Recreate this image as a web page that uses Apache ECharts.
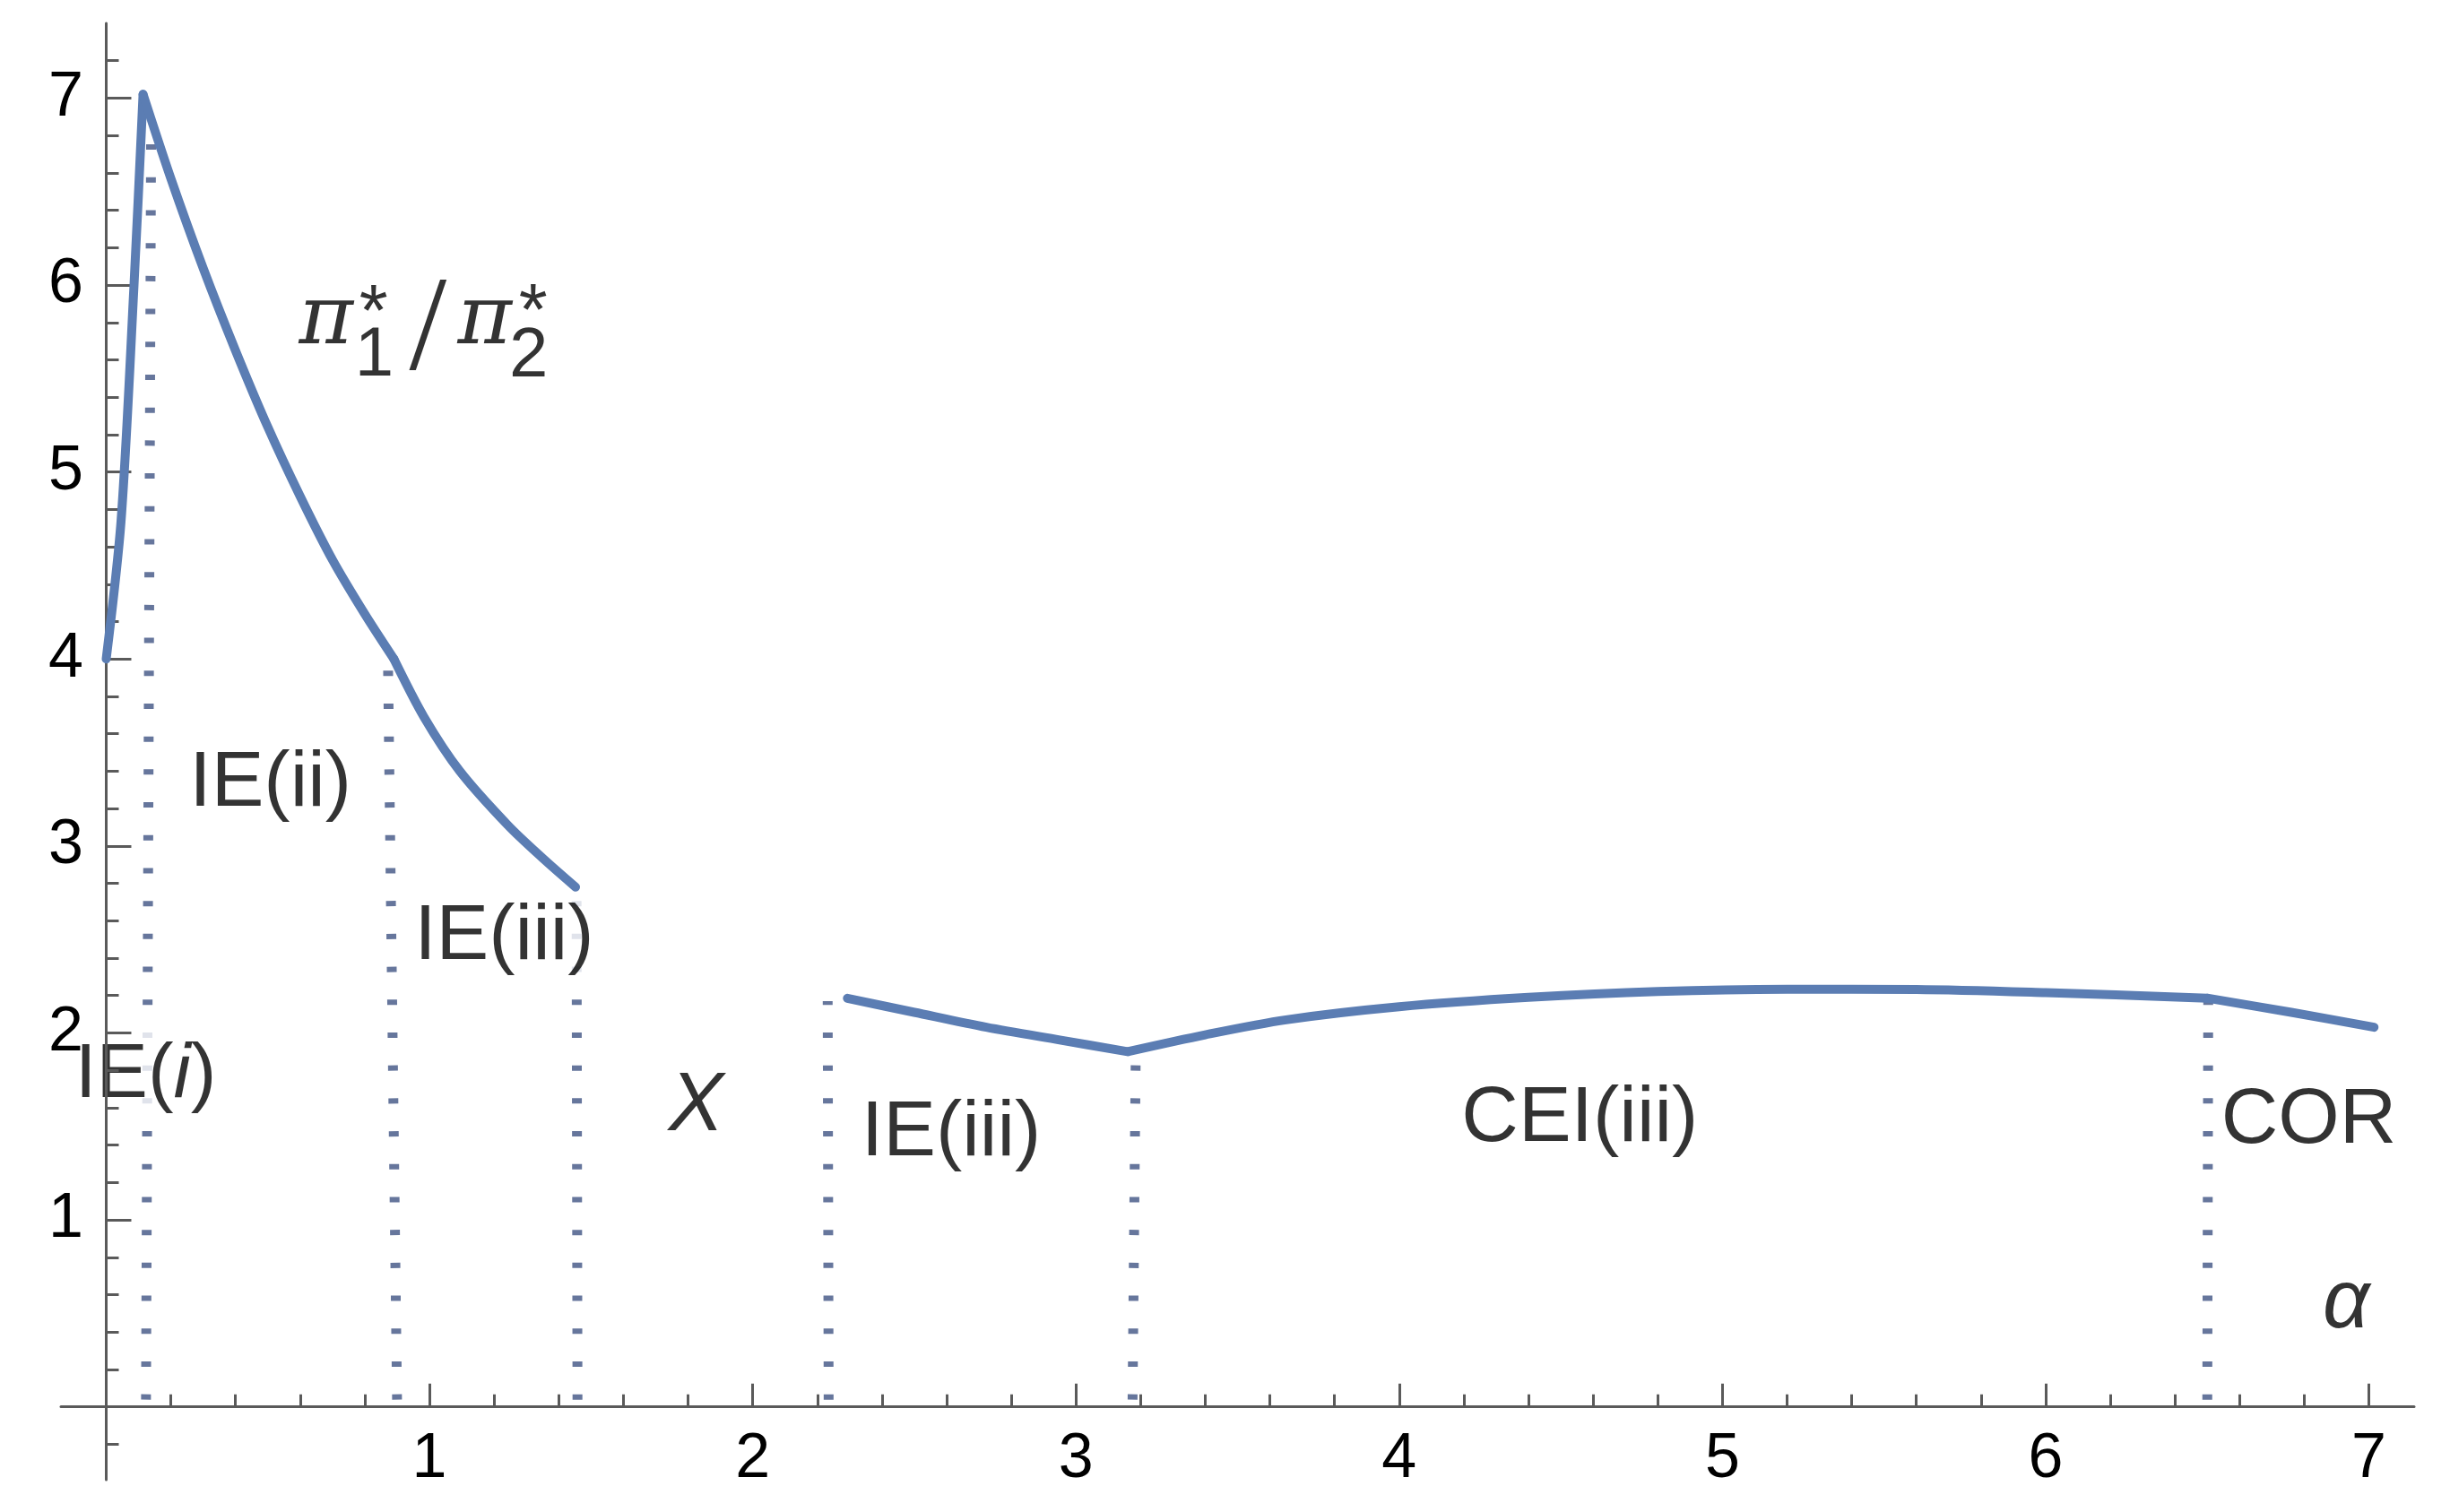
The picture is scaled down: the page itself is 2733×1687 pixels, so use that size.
<!DOCTYPE html>
<html>
<head>
<meta charset="utf-8">
<script src="https://cdn.jsdelivr.net/npm/echarts@6/dist/echarts.min.js"></script>
<style>
html,body{margin:0;padding:0;background:#ffffff;}
#chart{width:2733px;height:1687px;}
</style>
</head>
<body>
<div id="chart"></div>
<script>
// ---------------- data ----------------
const xRange = [-0.14, 7.14];
const yRange = [-0.39, 7.40];

const xMajorTicks = [1, 2, 3, 4, 5, 6, 7];
const xTickLabels = ['1', '2', '3', '4', '5', '6', '7'];
const yMajorTicks = [1, 2, 3, 4, 5, 6, 7];
const yTickLabels = ['1', '2', '3', '4', '5', '6', '7'];
const xMinorTicks = [0.2, 0.4, 0.6, 0.8, 1.2, 1.4, 1.6, 1.8, 2.2, 2.4, 2.6, 2.8,
  3.2, 3.4, 3.6, 3.8, 4.2, 4.4, 4.6, 4.8, 5.2, 5.4, 5.6, 5.8, 6.2, 6.4, 6.6, 6.8];
const yMinorTicks = [-0.2, 0.2, 0.4, 0.6, 0.8, 1.2, 1.4, 1.6, 1.8, 2.2, 2.4, 2.6, 2.8,
  3.2, 3.4, 3.6, 3.8, 4.2, 4.4, 4.6, 4.8, 5.2, 5.4, 5.6, 5.8, 6.2, 6.4, 6.6, 6.8, 7.2];

// curve pieces of pi1*/pi2* against alpha
const segIEiX = [0, 0.046, 0.086, 0.114];
const segIEiY = [4.0, 4.74, 6.0, 7.02];
const segIEiiX = [0.114, 0.2, 0.3, 0.4, 0.5, 0.6, 0.7, 0.8, 0.89];
const segIEiiY = [7.02, 6.57, 6.09, 5.65, 5.24, 4.87, 4.53, 4.24, 4.0];
const segIEiiiAX = [0.89, 0.983, 1.094, 1.243, 1.35, 1.452];
const segIEiiiAY = [4.0, 3.69, 3.40, 3.11, 2.935, 2.78];
const segIEiiiBX = [2.293, 2.5, 2.723, 2.95, 3.16];
const segIEiiiBY = [2.185, 2.11, 2.03, 1.962, 1.90];
const segCEIX = [3.16, 3.4, 3.65, 4.0, 4.4, 4.8, 5.2, 5.6, 6.0, 6.5];
const segCEIY = [1.90, 1.99, 2.07, 2.14, 2.19, 2.222, 2.234, 2.232, 2.215, 2.186];
const segCORX = [6.5, 6.76, 7.016];
const segCORY = [2.186, 2.11, 2.03];

// dotted region boundaries (x at the axis, x at the top, height)
const dividerBottomX = [0.123, 0.90, 1.458, 2.235, 3.175, 6.50];
const dividerTopX = [0.139, 0.872, 1.455, 2.232, 3.185, 6.503];
const dividerTopY = [6.85, 3.95, 2.78, 2.17, 1.88, 2.17];

// region labels
const regionLabels = ['IE(i)', 'IE(ii)', 'IE(iii)', 'X', 'IE(iii)', 'CEI(iii)', 'COR', 'α'];
const regionLabelX = [0.122, 0.508, 1.231, 1.825, 2.614, 4.559, 6.814, 6.93];
const regionLabelY = [1.76, 3.33, 2.51, 1.60, 1.46, 1.54, 1.53, 0.55];

// the ratio label  π1* / π2*
const ratioParts = ['π', '1', '*', '/', 'π', '2', '*'];
const ratioKinds = ['pi', 'sub', 'star', 'slash', 'pi', 'sub', 'star'];
const ratioPartX = [0.680, 0.829, 0.827, 0.995, 1.171, 1.307, 1.321];
const ratioPartY = [5.805, 5.62, 5.839, 5.738, 5.805, 5.615, 5.844];

// ---------------- styles ----------------
const AXIS_COLOR = '#5a5a5a';
const CURVE_COLOR = '#5b7db3';
const DOT_COLOR = '#66769c';
const SANS = 'Liberation Sans';
const SERIF = 'Liberation Serif';

function zip(xs, ys) { return xs.map((x, i) => [x, ys[i]]); }

const segments = [
  [segIEiX, segIEiY], [segIEiiX, segIEiiY], [segIEiiiAX, segIEiiiAY],
  [segIEiiiBX, segIEiiiBY], [segCEIX, segCEIY], [segCORX, segCORY]
];

const series = [];

dividerBottomX.forEach((bx, i) => {
  series.push({
    type: 'line',
    xAxisIndex: 0, yAxisIndex: 0,
    data: [[bx, 0], [dividerTopX[i], dividerTopY[i]]],
    symbol: 'none',
    silent: true,
    z: -3,
    lineStyle: { color: DOT_COLOR, width: 11, type: [6, 30.7], dashOffset: -8, cap: 'butt' }
  });
});

const labelStyleFor = (text, i) => {
  const base = {
    show: true, position: 'inside', color: '#000', fontFamily: SANS,
    fontSize: 88, align: 'center', verticalAlign: 'middle'
  };
  if (text === 'IE(i)') {
    base.formatter = '{n|IE(}{it|i}{n|)}';
    base.rich = {
      n: { fontFamily: SANS, fontSize: 86, color: '#000' },
      it: { fontFamily: SANS, fontSize: 86, fontStyle: 'italic', color: '#000' }
    };
    base.backgroundColor = '#ffffff';
    base.padding = [6, 4, 10, 4];
  } else if (text === 'X' || text === 'α') {
    base.formatter = text;
    base.fontStyle = 'italic';
    base.fontSize = 92;
  } else {
    base.formatter = text;
    if (i === 2) { base.backgroundColor = '#ffffff'; base.padding = [8, 4, 12, 4]; }
  }
  return base;
};

series.push({
  type: 'scatter',
  xAxisIndex: 0, yAxisIndex: 0,
  symbolSize: 1,
  silent: true,
  z: -1,
  itemStyle: { color: 'rgba(0,0,0,0)' },
  data: regionLabels.map((t, i) => ({
    value: [regionLabelX[i], regionLabelY[i]],
    label: labelStyleFor(t, i)
  }))
});

const ratioStyle = {
  pi: { fontFamily: 'DejaVu Serif', fontStyle: 'italic', fontSize: 92 },
  sub: { fontFamily: SANS, fontSize: 78 },
  star: { fontFamily: SANS, fontSize: 82 },
  slash: { fontFamily: SERIF, fontSize: 150 }
};

series.push({
  type: 'scatter',
  xAxisIndex: 0, yAxisIndex: 0,
  symbolSize: 1,
  silent: true,
  z: -1,
  itemStyle: { color: 'rgba(0,0,0,0)' },
  data: ratioParts.map((t, i) => ({
    value: [ratioPartX[i], ratioPartY[i]],
    label: Object.assign({
      show: true, position: 'inside', color: '#000', align: 'center',
      verticalAlign: 'middle', formatter: t
    }, ratioStyle[ratioKinds[i]])
  }))
});

segments.forEach(([xs, ys]) => {
  series.push({
    type: 'line',
    xAxisIndex: 0, yAxisIndex: 0,
    data: zip(xs, ys),
    symbol: 'none',
    smooth: 0.3,
    silent: true,
    z: 3,
    lineStyle: { color: CURVE_COLOR, width: 10, cap: 'round', join: 'miter' }
  });
});

const chart = echarts.init(document.getElementById('chart'), null, { renderer: 'canvas' });
chart.setOption({
  animation: false,
  backgroundColor: '#ffffff',
  grid: { left: 68, right: 40, top: 26, bottom: 36, containLabel: false, outerBoundsMode: 'none' },
  xAxis: [
    {
      type: 'value', position: 'bottom', min: xRange[0], max: xRange[1],
      axisLine: { show: true, onZero: true, onZeroAxisIndex: 0, lineStyle: { color: AXIS_COLOR, width: 3 } },
      axisTick: { show: true, inside: true, length: 26, customValues: xMajorTicks, lineStyle: { color: AXIS_COLOR, width: 3 } },
      axisLabel: {
        show: true, customValues: xMajorTicks, margin: -57, fontSize: 70, fontFamily: SANS, color: '#000',
        formatter: v => xTickLabels[xMajorTicks.indexOf(Math.round(v))] || ''
      },
      splitLine: { show: false }
    },
    {
      type: 'value', position: 'bottom', min: xRange[0], max: xRange[1],
      axisLine: { show: false, onZero: true, onZeroAxisIndex: 0 },
      axisTick: { show: true, inside: true, length: 14, customValues: xMinorTicks, lineStyle: { color: AXIS_COLOR, width: 3 } },
      axisLabel: { show: false },
      splitLine: { show: false }
    }
  ],
  yAxis: [
    {
      type: 'value', position: 'left', min: yRange[0], max: yRange[1],
      axisLine: { show: true, onZero: true, onZeroAxisIndex: 0, lineStyle: { color: AXIS_COLOR, width: 3 } },
      axisTick: { show: true, inside: true, length: 28, customValues: yMajorTicks, lineStyle: { color: AXIS_COLOR, width: 3 } },
      axisLabel: {
        show: true, customValues: yMajorTicks, margin: -25, fontSize: 70, fontFamily: SANS, color: '#000',
        formatter: v => yTickLabels[yMajorTicks.indexOf(Math.round(v))] || ''
      },
      splitLine: { show: false }
    },
    {
      type: 'value', position: 'left', min: yRange[0], max: yRange[1],
      axisLine: { show: false, onZero: true, onZeroAxisIndex: 0 },
      axisTick: { show: true, inside: true, length: 14, customValues: yMinorTicks, lineStyle: { color: AXIS_COLOR, width: 3 } },
      axisLabel: { show: false },
      splitLine: { show: false }
    }
  ],
  series: series
});
</script>
</body>
</html>
